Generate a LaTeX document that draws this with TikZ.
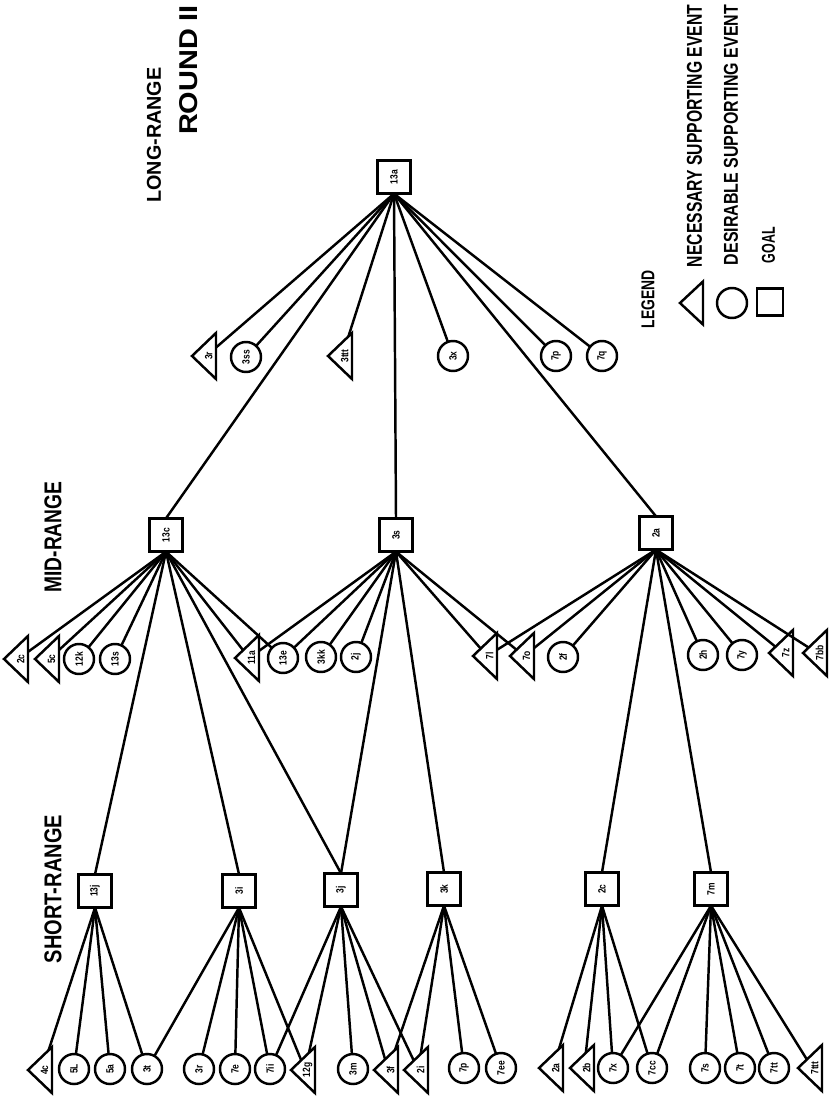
\documentclass[tikz,border=0pt]{standalone}
\usepackage{fontspec}
\usepackage{graphicx}
\setsansfont{Liberation Sans}
\newfontfamily\condfam[FakeStretch=0.8]{Liberation Sans}
\usetikzlibrary{shapes.geometric}
\newdimen\pxu \pxu=0.03cm
\newcommand{\fitlbl}[3]{\resizebox{#1\pxu}{#2\pxu}{\sffamily\bfseries #3}}
\newcommand{\rt}[1]{\rotatebox{90}{#1}}
\newcommand{\mktri}[4]{\node[tri] (#1) at (#2,#3) {}; \node[lab] (#1-l) at ([xshift=-0.22cm]#1.east) {\rt{#4}};}
\newcommand{\mkcirc}[4]{\node[evt] (#1) at (#2,#3) {\rt{#4}};}
\newcommand{\mkbox}[4]{\node[goal] (#1) at (#2,#3) {\rt{#4}};}
\begin{document}
\begin{tikzpicture}[x=0.03cm,y=-0.03cm,line width=2.1pt,
  lab/.style={font=\condfam\bfseries\fontsize{9}{9}\selectfont, inner sep=0pt},
  evt/.style={draw, circle, minimum size=0.9cm, inner sep=0pt, outer sep=0pt, font=\condfam\bfseries\fontsize{9}{9}\selectfont},
  goal/.style={draw, rectangle, minimum size=1.0cm, inner sep=0pt, outer sep=0pt, font=\condfam\bfseries\fontsize{9}{9}\selectfont},
  tri/.style={draw, isosceles triangle, isosceles triangle stretches, shape border rotate=180,
     minimum height=0.72cm, minimum width=1.38cm, inner sep=0pt, outer sep=0pt, anchor=east},
  title/.style={rotate=90, inner sep=0pt}]
\useasboundingbox (0,0) rectangle (834,1096);

% titles
\node[title] (round) at (189,70) {\fitlbl{130}{18}{ROUND II}};
\node[title] (long) at (154,135) {\fitlbl{135}{14}{LONG-RANGE}};
\node[title] (mid) at (53,537) {\fitlbl{111}{17}{MID-RANGE}};
\node[title] (short) at (53,889) {\fitlbl{148}{17}{SHORT-RANGE}};

% legend
\node[title] (legend) at (648,299) {\fitlbl{58}{13}{LEGEND}};
\node[tri, minimum width=1.29cm, minimum height=0.69cm] (legtri) at (703,303) {};
\node[draw, circle, minimum size=0.9cm, inner sep=0pt] (legcirc) at (732,303) {};
\node[draw, rectangle, minimum width=0.78cm, minimum height=0.81cm, inner sep=0pt] (legbox) at (770,302) {};
\node[title] (legn) at (694.5,136) {\fitlbl{262}{15}{NECESSARY SUPPORTING EVENT}};
\node[title] (legd) at (731,135) {\fitlbl{260}{14}{DESIRABLE SUPPORTING EVENT}};
\node[title] (legg) at (768.5,245) {\fitlbl{36}{13}{GOAL}};

% top goal
\mkbox{g13a}{394}{177}{13a}

% long-range children
\mktri{t3r}{216}{356}{3r}
\mkcirc{c3ss}{246}{357}{3ss}
\mktri{t3ttt}{352}{356}{3ttt}
\mkcirc{c3x}{453}{356}{3x}
\mkcirc{c7p}{556}{356}{7p}
\mkcirc{c7q}{602}{356}{7q}

% mid-range goals
\mkbox{b13c}{166}{535}{13c}
\mkbox{b3s}{396}{535}{3s}
\mkbox{b2a}{656}{533}{2a}

% mid-range children
\mktri{t2c}{28}{659}{2c}
\mktri{t5c}{59}{659}{5c}
\mkcirc{c12k}{79}{659}{12k}
\mkcirc{c13s}{115}{659}{13s}
\mktri{t11a}{259}{658}{11a}
\mkcirc{c13e}{283}{658}{13e}
\mkcirc{c3kk}{321}{657}{3kk}
\mkcirc{c2j}{356}{657}{2j}
\mktri{t7l}{497}{656}{7l}
\mktri{t7o}{534}{656}{7o}
\mkcirc{c2f}{563}{657}{2f}
\mkcirc{c2h}{703}{655}{2h}
\mkcirc{c7y}{742}{655}{7y}
\mktri{t7z}{793}{653}{7z}
\mktri{t7bb}{827}{653}{7bb}

% short-range goals
\mkbox{b13j}{95}{891}{13j}
\mkbox{b3i}{239}{891}{3i}
\mkbox{b3j}{341}{890}{3j}
\mkbox{b3k}{444}{889}{3k}
\mkbox{b2c}{602}{889}{2c}
\mkbox{b7m}{711}{889}{7m}

% short-range children
\mktri{t4c}{52}{1070}{4c}
\mkcirc{c5L}{74}{1069}{5L}
\mkcirc{c5a}{110}{1069}{5a}
\mkcirc{c3t}{147}{1069}{3t}
\mkcirc{c3r}{199}{1069}{3r}
\mkcirc{c7e}{235}{1069}{7e}
\mkcirc{c7ii}{270}{1069}{7ii}
\mktri{t12g}{315}{1070}{12g}
\mkcirc{c3m}{353}{1069}{3m}
\mktri{t3f}{398}{1070}{3f}
\mktri{t2i}{428}{1070}{2i}
\mkcirc{c7pp}{464}{1068}{7p}
\mkcirc{c7ee}{501}{1068}{7ee}
\mktri{t2a}{563}{1068}{2a}
\mktri{t2b}{594}{1068}{2b}
\mkcirc{c7x}{613}{1068}{7x}
\mkcirc{c7cc}{652}{1068}{7cc}
\mkcirc{c7s}{705}{1068}{7s}
\mkcirc{c7t}{740}{1068}{7t}
\mkcirc{c7tt}{774}{1068}{7tt}
\mktri{t7ttt}{822}{1068}{7ttt}

% connectors
\foreach \n in {t3r,c3ss,t3ttt,c3x,c7p,c7q} \draw (g13a.south) -- (\n);
\foreach \n in {b13c,b3s,b2a} \draw (g13a.south) -- (\n.north);

\foreach \n in {t2c,t5c,c12k,c13s,t11a,c13e} \draw (b13c.south) -- (\n);
\foreach \n in {b13j,b3i,b3j} \draw (b13c.south) -- (\n.north);

\foreach \n in {t11a,c13e,c3kk,c2j,t7l,t7o} \draw (b3s.south) -- (\n);
\foreach \n in {b3j,b3k} \draw (b3s.south) -- (\n.north);

\foreach \n in {t7l,t7o,c2f,c2h,c7y,t7z,t7bb} \draw (b2a.south) -- (\n);
\foreach \n in {b2c,b7m} \draw (b2a.south) -- (\n.north);

\foreach \n in {t4c,c5L,c5a,c3t} \draw (b13j.south) -- (\n);
\foreach \n in {c3t,c3r,c7e,c7ii,t12g} \draw (b3i.south) -- (\n);
\foreach \n in {c7ii,t12g,c3m,t3f,t2i} \draw (b3j.south) -- (\n);
\foreach \n in {t3f,t2i,c7pp,c7ee} \draw (b3k.south) -- (\n);
\foreach \n in {t2a,t2b,c7x,c7cc} \draw (b2c.south) -- (\n);
\foreach \n in {c7x,c7cc,c7s,c7t,c7tt,t7ttt} \draw (b7m.south) -- (\n);
\end{tikzpicture}
\end{document}
